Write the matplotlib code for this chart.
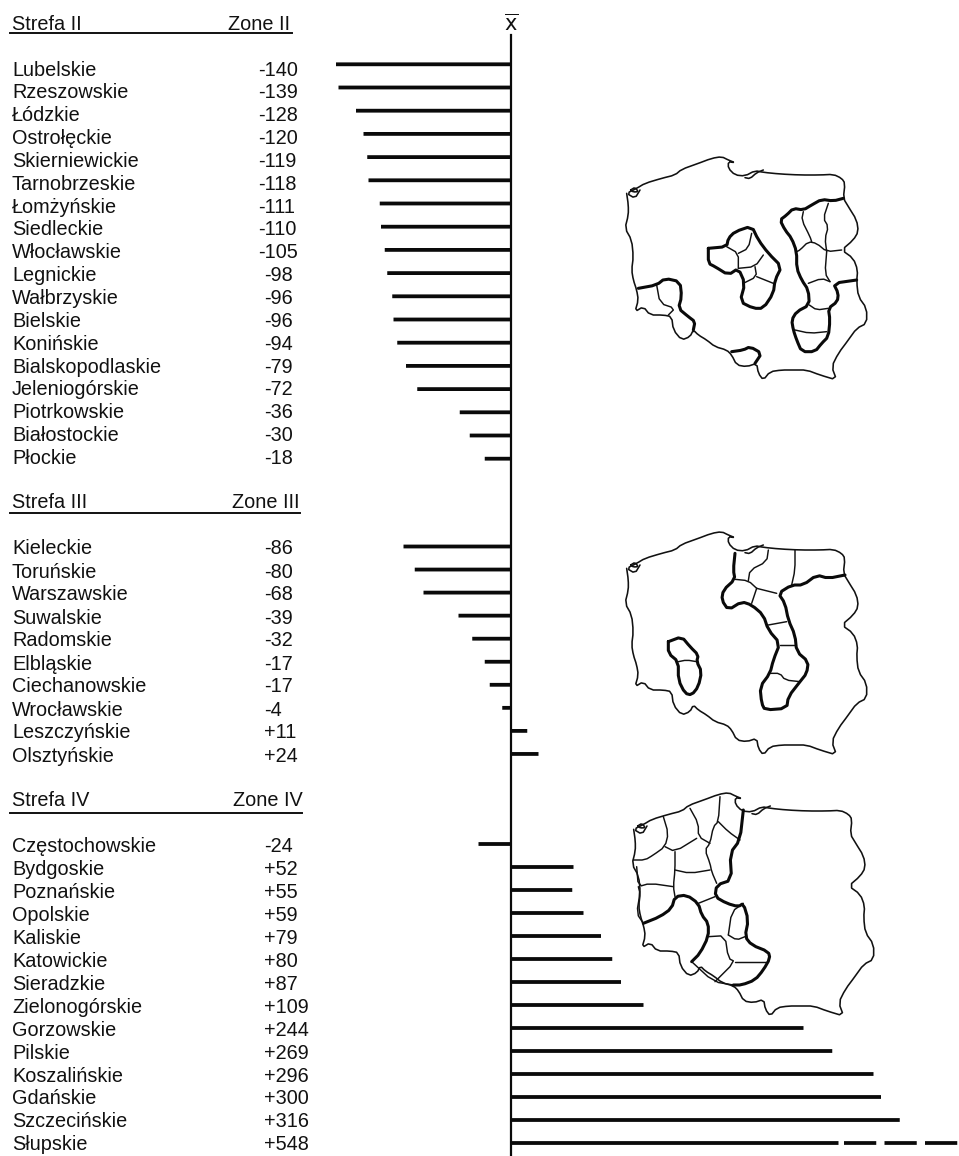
import matplotlib
matplotlib.use("Agg")
import matplotlib.pyplot as plt
import numpy as np

plt.rcParams["font.family"] = ["Liberation Sans", "DejaVu Sans"]

# zone II
names2 = ['Lubelskie', 'Rzeszowskie', 'Łódzkie', 'Ostrołęckie', 'Skierniewickie', 'Tarnobrzeskie',
          'Łomżyńskie', 'Siedleckie', 'Włocławskie', 'Legnickie', 'Wałbrzyskie', 'Bielskie', 'Konińskie',
          'Bialskopodlaskie', 'Jeleniogórskie', 'Piotrkowskie', 'Białostockie', 'Płockie']
labels2 = ['-140', '-139', '-128', '-120', '-119', '-118', '-111', '-110', '-105', '-98', '-96', '-96', '-94',
           '-79', '-72', '-36', '-30', '-18']
bars2 = [-140, -138, -124, -118, -115, -114, -105, -104, -101, -99, -95, -94, -91, -84, -75, -41, -33, -21]

# zone III
names3 = ['Kieleckie', 'Toruńskie', 'Warszawskie', 'Suwalskie', 'Radomskie', 'Elbląskie', 'Ciechanowskie',
          'Wrocławskie', 'Leszczyńskie', 'Olsztyńskie']
labels3 = ['-86', '-80', '-68', '-39', '-32', '-17', '-17', '-4', '+11', '+24']
bars3 = [-86, -77, -70, -42, -31, -21, -17, -7, 13, 22]

# zone IV
names4 = ['Częstochowskie', 'Bydgoskie', 'Poznańskie', 'Opolskie', 'Kaliskie', 'Katowickie', 'Sieradzkie',
          'Zielonogórskie', 'Gorzowskie', 'Pilskie', 'Koszalińskie', 'Gdańskie', 'Szczecińskie', 'Słupskie']
labels4 = ['-24', '+52', '+55', '+59', '+79', '+80', '+87', '+109', '+244', '+269', '+296', '+300', '+316', '+548']
bars4 = [-26, 50, 49, 58, 72, 81, 88, 106, 234, 257, 290, 296, 311, 262]
slupskie_tail = 358  # the broken part of the last bar runs off the page

# country outline, traced at 3x
border = [(120, 150), (105, 175), (80, 160), (110, 145), (135, 130), (185, 115), (225, 105), (245, 88), (290, 72),
          (335, 55), (365, 50), (385, 60), (405, 68), (385, 65), (385, 85), (405, 105), (435, 108), (465, 92),
          (490, 97), (540, 102), (600, 105), (660, 105), (700, 103), (725, 115), (735, 130), (730, 175), (745, 200),
          (770, 240), (775, 275), (760, 300), (725, 330), (760, 355), (773, 390), (770, 425), (775, 470), (800, 505),
          (800, 550), (770, 565), (745, 600), (715, 640), (695, 680), (710, 720), (660, 705), (620, 690), (580, 690),
          (545, 690), (510, 695), (490, 720), (475, 700), (470, 670), (440, 680), (410, 675), (395, 645), (380, 630),
          (345, 620), (320, 600), (295, 585), (280, 570), (270, 590), (245, 600), (220, 570), (215, 530), (190, 525),
          (150, 525), (130, 500), (105, 515), (115, 480), (110, 450), (100, 420), (95, 390), (100, 350), (95, 300),
          (75, 265), (85, 225), (85, 195), (80, 160)]
spit = [(435, 113), (450, 116), (470, 98), (490, 90)]
lagoon = [(92, 150), (105, 142), (115, 155), (100, 156), (92, 150)]

thick1 = [
    [(730, 175), (700, 183), (665, 178), (635, 195), (610, 210), (580, 205), (560, 225), (540, 240), (555, 270),
     (575, 295), (590, 335), (590, 385), (605, 420), (625, 450), (628, 495), (590, 515), (575, 540), (580, 570),
     (590, 600), (605, 635), (645, 635), (665, 610), (685, 590), (690, 540), (685, 505), (712, 485), (715, 460),
     (700, 430), (770, 420)],
    [(325, 325), (380, 320), (385, 295), (405, 275), (455, 258), (475, 300), (505, 340), (545, 380), (525, 420),
     (520, 460), (490, 505), (460, 505), (420, 485), (435, 430), (415, 385), (385, 405), (345, 380), (325, 370),
     (325, 325)],
    [(115, 445), (170, 435), (195, 415), (240, 425), (245, 470), (235, 505), (265, 530), (285, 545), (280, 570)],
    [(395, 635), (430, 630), (450, 620), (485, 640), (465, 670)],
]
thin1 = [
    [(610, 215), (605, 240), (630, 290), (635, 305)],
    [(685, 190), (670, 235), (685, 260), (675, 295), (680, 335)],
    [(725, 330), (680, 335), (650, 310), (625, 305), (600, 330), (590, 335)],
    [(680, 335), (675, 400), (690, 425)],
    [(625, 430), (665, 415), (690, 425)],
    [(628, 495), (650, 510), (685, 505)],
    [(585, 570), (630, 580), (680, 575)],
    [(380, 320), (415, 340), (415, 385)],
    [(415, 340), (445, 325), (455, 280)],
    [(415, 385), (465, 380), (490, 345)],
    [(465, 380), (470, 410), (430, 430)],
    [(470, 410), (520, 430)],
    [(170, 435), (180, 490), (225, 505), (205, 525)],
]
thick2 = [
    [(405, 190), (400, 240), (405, 268), (370, 300), (365, 330), (385, 360), (425, 335), (455, 345), (490, 375),
     (505, 420), (540, 460), (520, 510), (510, 550), (480, 590), (485, 640), (495, 660), (560, 655), (565, 620),
     (600, 575), (620, 550), (625, 515), (590, 485), (585, 435), (565, 390), (555, 340), (535, 310), (575, 285),
     (610, 285), (650, 255), (685, 265), (735, 255)],
    [(205, 455), (245, 440), (270, 470), (295, 495), (290, 515), (305, 545), (295, 590), (275, 615), (255, 610),
     (235, 570), (235, 515), (205, 490), (205, 455)],
]
thin2 = [
    [(405, 268), (445, 272), (470, 295)],
    [(470, 295), (455, 340)],
    [(470, 295), (530, 310)],
    [(445, 272), (450, 240), (500, 215), (505, 180)],
    [(585, 180), (585, 240), (575, 285)],
    [(505, 405), (560, 395)],
    [(540, 465), (585, 465)],
    [(510, 550), (540, 550), (555, 570), (600, 575)],
    [(235, 515), (260, 510), (290, 515)],
]
thick3 = [
    [(430, 90), (420, 180), (390, 220), (395, 300), (350, 315), (345, 350), (380, 370), (415, 380), (430, 370),
     (445, 420), (435, 470), (455, 495), (505, 515), (510, 535), (490, 570), (465, 600), (425, 615), (400, 615)],
    [(130, 430), (180, 410), (215, 385), (225, 350), (260, 345), (295, 370), (305, 405), (325, 430), (325, 470),
     (300, 520), (275, 545)],
]
thin3 = [
    [(190, 110), (205, 160), (195, 200), (160, 225), (135, 240), (100, 240)],
    [(270, 85), (295, 130), (295, 170), (330, 190)],
    [(360, 50), (355, 125), (340, 140), (330, 190), (315, 210), (330, 250), (335, 275), (350, 310)],
    [(355, 125), (385, 155), (420, 180)],
    [(195, 200), (225, 215), (290, 175)],
    [(225, 215), (225, 270), (220, 320), (225, 350)],
    [(110, 260), (115, 320), (150, 310), (220, 320)],
    [(115, 320), (120, 340), (110, 400), (130, 430)],
    [(225, 270), (270, 280), (330, 270)],
    [(295, 370), (345, 350)],
    [(325, 470), (375, 467), (385, 535), (405, 545), (345, 605)],
    [(385, 465), (395, 395), (430, 370)],
    [(385, 465), (410, 480), (435, 470)],
    [(405, 545), (500, 545)],
    [(275, 545), (340, 605), (400, 615)],
]


def smooth(pts):
    # corner cutting so the borders look hand drawn
    p = np.array(pts, dtype=float)
    q = 0.75 * p[:-1] + 0.25 * p[1:]
    r = 0.25 * p[:-1] + 0.75 * p[1:]
    mid = np.empty((len(q) * 2, 2))
    mid[0::2] = q
    mid[1::2] = r
    return np.vstack([p[:1], mid, p[-1:]])


def draw_map(ax, x0, y0, bx, by, thick, thin):
    for seg in [border, spit, lagoon]:
        b = smooth(seg)
        ax.plot(bx + b[:, 0] / 3, by + b[:, 1] / 3, color='#111111', lw=1.15, solid_capstyle='round')
    for seg in thin:
        s = smooth(seg)
        ax.plot(x0 + s[:, 0] / 3, y0 + s[:, 1] / 3, color='#111111', lw=1.05, solid_capstyle='round')
    for seg in thick:
        s = smooth(seg)
        ax.plot(x0 + s[:, 0] / 3, y0 + s[:, 1] / 3, color='#0a0a0a', lw=2.2, solid_capstyle='round')


fig = plt.figure(figsize=(9.59, 11.56), dpi=100)

# bars use value units, 1.25 px per unit, zero at x=511
ax = fig.add_axes([0, 0, 1, 1])
ax.set_xlim(-511 / 1.25, (959 - 511) / 1.25)
ax.set_ylim(1156, 0)
ax.axis('off')

# text and maps in picture pixels
mx = fig.add_axes([0, 0, 1, 1])
mx.set_xlim(0, 959)
mx.set_ylim(1156, 0)
mx.axis('off')
mx.patch.set_alpha(0)

# header y, rule y, rule end, zone text end, rows, first text y, text step, first bar y, bar step
zones = [
    ('Strefa II', 'Zone II', 23, 33, 292, 290, names2, labels2, bars2, 69, 22.85, 64.3, 23.2),
    ('Strefa III', 'Zone III', 502, 513, 300, 299, names3, labels3, bars3, 548, 23.0, 546.5, 23.05),
    ('Strefa IV', 'Zone IV', 800, 813, 302, 303, names4, labels4, bars4, 846, 22.9, 844, 23.0),
]
fs = 14.3
for strefa, zone, ty, ly, lx, zx, names, labels, bars, y0, step, by0, bstep in zones:
    mx.text(12, ty + 6.5, strefa, fontsize=fs, va='baseline', ha='left', color='#111111')
    mx.text(zx, ty + 6.5, zone, fontsize=fs, va='baseline', ha='right', color='#111111')
    mx.plot([10, lx], [ly, ly], color='#111111', lw=1.4)
    for i, (n, l) in enumerate(zip(names, labels)):
        y = y0 + i * step + 6.5
        mx.text(12, y, n, fontsize=fs, va='baseline', ha='left', color='#111111')
        # the three digit minus values stick out to the left
        vx = 258 if l.startswith('-') and len(l) == 4 else 264
        mx.text(vx, y, l, fontsize=fs, va='baseline', ha='left', color='#111111')
    ys = [by0 + i * bstep for i in range(len(names))]
    rects = ax.barh(ys, bars, height=3.8, color='#0a0a0a')
    for r in rects:
        r.set_snap(False)

# tail of Słupskie
ax.hlines(844 + 13 * 23.0, bars4[-1] + 4, slupskie_tail, color='#0a0a0a', lw=2.7,
          linestyles=(0, (8.6, 2.2)))

ax.axvline(0, ymin=1 - 35 / 1156, ymax=0, color='#0a0a0a', lw=1.6)
mx.text(511, 24, r'$\overline{\mathrm{x}}$', fontsize=15, ha='center', va='center', color='#111111')

draw_map(mx, 600, 140, 600, 140, thick1, thin1)
draw_map(mx, 600, 490, 600, 515, thick2, thin2)
draw_map(mx, 600, 780, 607, 776, thick3, thin3)

fig.savefig('out.png', dpi=100, facecolor='white')
